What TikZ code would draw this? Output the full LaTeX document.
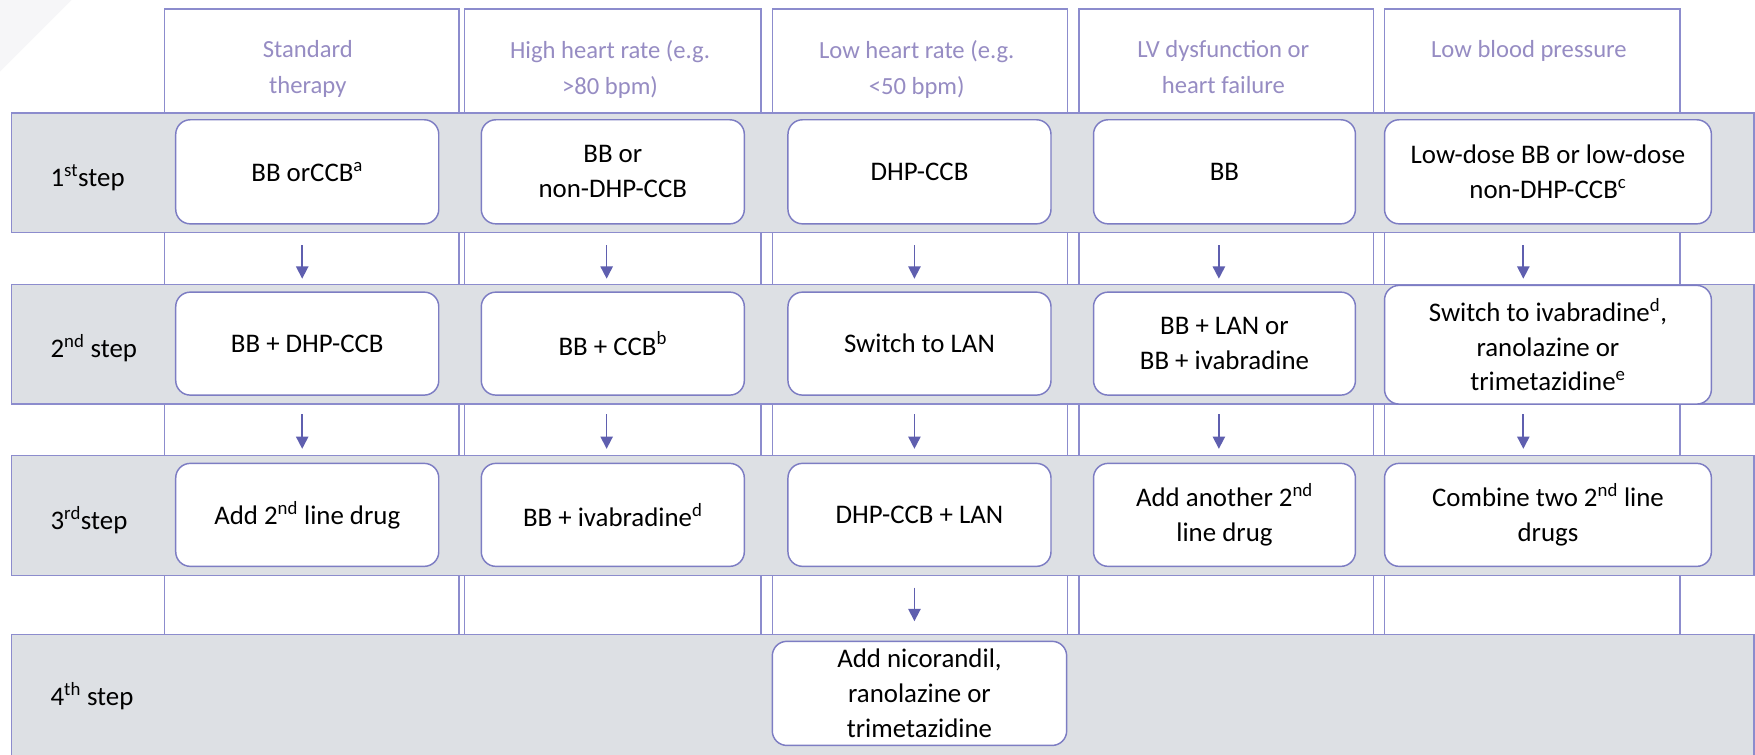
\documentclass[tikz,border=0pt]{standalone}
\usepackage{fontspec}
\setmainfont{Carlito}
\usetikzlibrary{arrows.meta,calc}
\definecolor{bandfill}{RGB}{221,224,228}
\definecolor{lineP}{RGB}{140,140,205}
\definecolor{boxP}{RGB}{125,125,195}
\definecolor{arrP}{RGB}{95,95,175}
\definecolor{headP}{RGB}{150,140,195}
\definecolor{faint}{RGB}{246,246,248}
\begin{document}
\begin{tikzpicture}[x=1pt,y=-1pt,
  colbox/.style={draw=lineP, line width=1.1pt, fill=white, anchor=north west, inner sep=0pt, outer sep=0pt, minimum height=559pt},
  band/.style={draw=lineP, line width=1.2pt, fill=bandfill, anchor=north west, inner sep=0pt, outer sep=0pt, minimum width=1557pt, minimum height=107pt},
  stepbox/.style={draw=boxP, line width=1.3pt, fill=white, rounded corners=13pt, align=center, inner sep=0pt, outer sep=0pt, font=\fontsize{24}{31}\selectfont},
  hdr/.style={text=headP, align=center, anchor=north, inner sep=0pt, font=\fontsize{22}{32}\selectfont},
  lbl/.style={anchor=west, inner sep=0pt, font=\fontsize{24}{28}\selectfont},
  arr/.style={draw=arrP, line width=1.5pt, -{Triangle[length=11pt,width=11pt]}}]
\useasboundingbox (0,0) rectangle (1568,674);
\clip (0,0) rectangle (1568,674);
\fill[faint] (0,0) -- (64,0) -- (0,64) -- cycle;
% columns
\node[colbox, minimum width=263pt] (col1) at (147,8) {};
\node[colbox, minimum width=265pt] (col2) at (415,8) {};
\node[colbox, minimum width=264pt] (col3) at (690,8) {};
\node[colbox, minimum width=263pt] (col4) at (964,8) {};
\node[colbox, minimum width=264pt] (col5) at (1237,8) {};
% headers
\node[hdr] (h1) at (275,36) {Standard\\therapy};
\node[hdr] (h2) at (545,36) {High heart rate (e.g.\\>80 bpm)};
\node[hdr] (h3) at (819,36) {Low heart rate (e.g.\\<50 bpm)};
\node[hdr] (h4) at (1093,36) {LV dysfunction or\\heart failure};
\node[hdr] (h5) at (1366,36) {Low blood pressure};
% bands
\node[band] (band1) at (10,101) {};
\node[band] (band2) at (10,254) {};
\node[band] (band3) at (10,407) {};
\node[band, minimum height=108pt] (band4) at (10,567) {};
% step labels
\node[lbl] (l1) at (45,159) {1\textsuperscript{st}step};
\node[lbl] (l2) at (45,311) {2\textsuperscript{nd} step};
\node[lbl] (l3) at (45,465) {3\textsuperscript{rd}step};
\node[lbl] (l4) at (45,622) {4\textsuperscript{th} step};
% row 1
\node[stepbox, minimum width=235pt, minimum height=93pt] (r1c1) at (274.5,153.5) {BB orCCB\textsuperscript{a}};
\node[stepbox, minimum width=235pt, minimum height=93pt] (r1c2) at (547.5,153.5) {BB or\\non-DHP-CCB};
\node[stepbox, minimum width=235pt, minimum height=93pt] (r1c3) at (821.5,153.5) {DHP-CCB};
\node[stepbox, minimum width=234pt, minimum height=93pt] (r1c4) at (1094,153.5) {BB};
\node[stepbox, minimum width=292pt, minimum height=93pt] (r1c5) at (1383,153.5) {Low-dose BB or low-dose\\non-DHP-CCB\textsuperscript{c}};
% row 2
\node[stepbox, minimum width=235pt, minimum height=92pt] (r2c1) at (274.5,307) {BB + DHP-CCB};
\node[stepbox, minimum width=235pt, minimum height=92pt] (r2c2) at (547.5,307) {BB + CCB\textsuperscript{b}};
\node[stepbox, minimum width=235pt, minimum height=92pt] (r2c3) at (821.5,307) {Switch to LAN};
\node[stepbox, minimum width=234pt, minimum height=92pt] (r2c4) at (1094,307) {BB + LAN or\\BB + ivabradine};
\node[stepbox, minimum width=292pt, minimum height=106pt] (r2c5) at (1383,308) {Switch to ivabradine\textsuperscript{d},\\ranolazine or\\trimetazidine\textsuperscript{e}};
% row 3
\node[stepbox, minimum width=235pt, minimum height=92pt] (r3c1) at (274.5,460) {Add 2\textsuperscript{nd} line drug};
\node[stepbox, minimum width=235pt, minimum height=92pt] (r3c2) at (547.5,460) {BB + ivabradine\textsuperscript{d}};
\node[stepbox, minimum width=235pt, minimum height=92pt] (r3c3) at (821.5,460) {DHP-CCB + LAN};
\node[stepbox, minimum width=234pt, minimum height=92pt] (r3c4) at (1094,460) {Add another 2\textsuperscript{nd}\\line drug};
\node[stepbox, minimum width=292pt, minimum height=92pt] (r3c5) at (1383,460) {Combine two 2\textsuperscript{nd} line\\drugs};
% row 4
\node[stepbox, minimum width=263pt, minimum height=93pt] (r4c3) at (821.5,619.5) {Add nicorandil,\\ranolazine or\\trimetazidine};
% arrows
\coordinate (ax1) at (270,0);
\coordinate (ax2) at (542,0);
\coordinate (ax3) at (817,0);
\coordinate (ax4) at (1089,0);
\coordinate (ax5) at (1361,0);
\foreach \i in {1,...,5}{
  \draw[arr] ($(band1.south -| ax\i)+(0,11)$) -- ($(band2.north -| ax\i)+(0,-5)$);
  \draw[arr] ($(band2.south -| ax\i)+(0,9)$) -- ($(band3.north -| ax\i)+(0,-6)$);
}
\draw[arr] ($(band3.south -| ax3)+(0,11)$) -- ($(band4.north -| ax3)+(0,-12)$);
\end{tikzpicture}
\end{document}
